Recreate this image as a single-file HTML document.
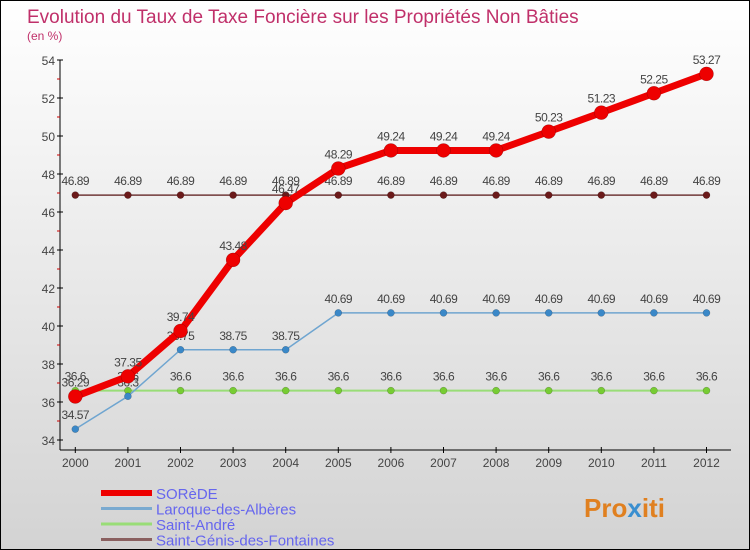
<!DOCTYPE html>
<html><head><meta charset="utf-8"><style>
html,body{margin:0;padding:0}
body{width:750px;height:550px;overflow:hidden;font-family:"Liberation Sans",sans-serif}
#wrap{position:relative;width:748px;height:548px;border:1px solid #000;background:linear-gradient(#fff,#d3d3d3)}
</style></head><body>
<div id="wrap">
<svg id="chart" width="748" height="548" style="position:absolute;left:0;top:0">
<text x="26" y="22" font-size="19" fill="#c0306a">Evolution du Taux de Taxe Foncière sur les Propriétés Non Bâties</text>
<text x="26" y="39" font-size="12" fill="#c0306a">(en %)</text>
<g id="axes"></g><g id="series"></g><g id="legend"></g>
<text x="583" y="516" font-size="26" font-weight="bold" fill="#e08020">Pro<tspan fill="#3a8fd0">x</tspan>iti</text>
</svg>
</div>
<script>
const years=[2000,2001,2002,2003,2004,2005,2006,2007,2008,2009,2010,2011,2012];
const sorede=[36.29,37.35,39.74,43.48,46.47,48.29,49.24,49.24,49.24,50.23,51.23,52.25,53.27];
const laroque=[34.57,36.3,38.75,38.75,38.75,40.69,40.69,40.69,40.69,40.69,40.69,40.69,40.69];
const andre=[36.6,36.6,36.6,36.6,36.6,36.6,36.6,36.6,36.6,36.6,36.6,36.6,36.6];
const genis=[46.89,46.89,46.89,46.89,46.89,46.89,46.89,46.89,46.89,46.89,46.89,46.89,46.89];
const yTicks=[34,36,38,40,42,44,46,48,50,52,54];
const names=["SORèDE","Laroque-des-Albères","Saint-André","Saint-Génis-des-Fontaines"];
const NS="http://www.w3.org/2000/svg";
const X=i=>74.3+i*52.6;
const Y=v=>439-(v-34)*19;
function mk(p,t,a){const e=document.createElementNS(NS,t);for(const k in a)e.setAttribute(k,a[k]);p.appendChild(e);return e;}
const ax=document.getElementById('axes');
const yl=mk(ax,'line',{x1:59,y1:Y(54),x2:59,y2:449,stroke:'#000'});


const xl=mk(ax,'line',{x1:59,y1:449,x2:730,y2:449,stroke:'#000'});


yTicks.forEach(v=>{
 mk(ax,'line',{x1:56,y1:Y(v),x2:62,y2:Y(v),stroke:'#000'});
 if(v<54)mk(ax,'line',{x1:56,y1:Y(v+1),x2:59,y2:Y(v+1),stroke:'#c00'});
 const t=mk(ax,'text',{x:54,y:Y(v)+5,'font-size':12,fill:'#444','text-anchor':'end'});
 t.textContent=v;
 
 
});
years.forEach((y,i)=>{
 mk(ax,'line',{x1:X(i),y1:446,x2:X(i),y2:452,stroke:'#000'});
 const t=mk(ax,'text',{x:X(i),y:466,'font-size':12,fill:'#444','text-anchor':'middle'});
 t.textContent=y;
 
 
});
const sg=document.getElementById('series');
function draw(data,color,w,r,dot,name){
 const g=mk(sg,'g',{});
 
 
 mk(g,'polyline',{points:data.map((v,i)=>X(i)+','+Y(v)).join(' '),fill:'none',stroke:color,'stroke-width':w,'stroke-linejoin':'round'});
 data.forEach((v,i)=>{
  const c=mk(g,'circle',{cx:X(i),cy:Y(v),r:r,fill:dot,stroke:'rgba(0,0,0,0.3)','stroke-width':0.5});
  
  
  const t=mk(g,'text',{x:X(i),y:Y(v)-10,'font-size':12,fill:'#444','text-anchor':'middle','letter-spacing':'-0.5'});
  t.textContent=v;
  
  
 });
}
draw(genis,'#703838',1.5,3.5,'#6b1a1a','saint-genis-series');
draw(andre,'#99dd77',2,3.5,'#77cc33','saint-andre-series');
draw(laroque,'#6fa5d0',1.5,3.5,'#3a88c8','laroque-series');
draw(sorede,'#ee0000',7,7,'#ee0000','sorede-series');
const lg=document.getElementById('legend');
const lc=['#ee0000','#7aaad0','#99dd77','#8a6060'],lw=[6,3,3,3];
names.forEach((n,i)=>{
 const y=492+i*15.5;
 const l=mk(lg,'line',{x1:100,y1:y,x2:151,y2:y,stroke:lc[i],'stroke-width':lw[i]});
 
 
 const t=mk(lg,'text',{x:155,y:y+6,'font-size':15,fill:'#6666ee'});
 t.textContent=n;
 
 
});
</script>
</body></html>
